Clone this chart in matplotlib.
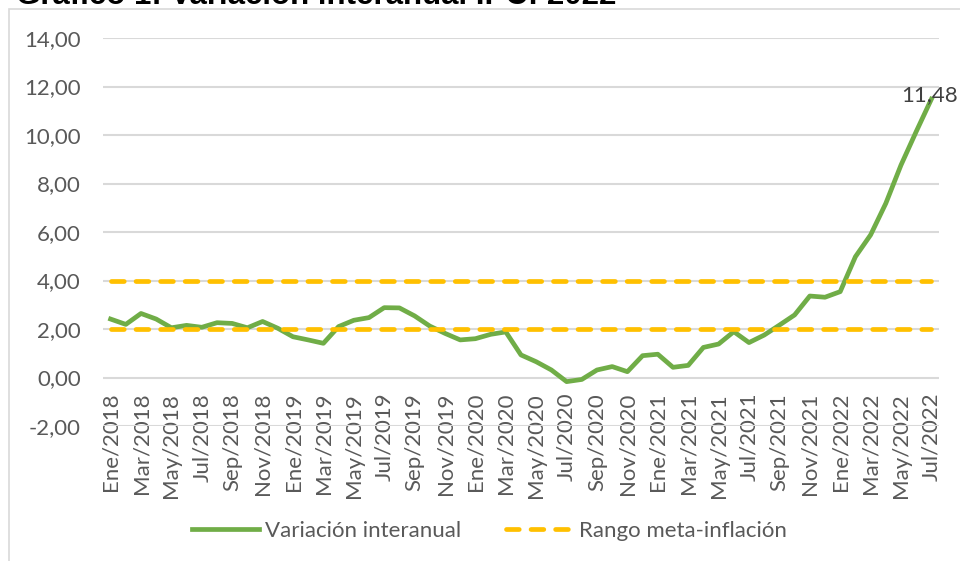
import matplotlib.pyplot as plt
from matplotlib.patches import Rectangle
from matplotlib.lines import Line2D

# meses Ene/2018 .. Jul/2022
mes_abrev = ["Ene", "Feb", "Mar", "Abr", "May", "Jun", "Jul", "Ago", "Sep", "Oct", "Nov", "Dic"]
anios = [2018, 2019, 2020, 2021, 2022]
meses = [m + "/" + str(a) for a in anios for m in mes_abrev][:55]

variacion = [
    2.41, 2.19, 2.64, 2.41, 2.05, 2.15, 2.07, 2.26, 2.23, 2.05, 2.31, 2.03,   # 2018
    1.68, 1.55, 1.41, 2.10, 2.36, 2.47, 2.88, 2.87, 2.54, 2.12, 1.82, 1.55,   # 2019
    1.60, 1.78, 1.88, 0.93, 0.65, 0.31, -0.17, -0.08, 0.31, 0.45, 0.24, 0.90, # 2020
    0.96, 0.42, 0.50, 1.24, 1.38, 1.89, 1.44, 1.75, 2.16, 2.58, 3.36, 3.31,   # 2021
    3.54, 4.98, 5.88, 7.18, 8.76, 10.14, 11.48,                               # 2022
]
meta_inf = 2.0
meta_sup = 4.0

verde = "#70AD47"
amarillo = "#FFC000"
gris_txt = "#595959"
gris_grid = "#D9D9D9"

plt.rcParams["font.family"] = ["Lato", "DejaVu Sans"]

fig = plt.figure(figsize=(9.6, 5.61), dpi=100)
W, H = 960, 561

# borde del area del grafico
fig.patches.append(Rectangle((9 / W, -0.1), 1.2, 1 - 9 / H + 0.1, transform=fig.transFigure,
                             fill=False, edgecolor=gris_grid, linewidth=1.2))

# titulo (cortado arriba en la imagen original)
fig.text(16 / W, 1 - 4.5 / H, "Gráfico 1: Variación interanual IPC: 2022", fontsize=22.5,
         fontweight="bold", family="Liberation Sans", color="black", va="baseline")

ax = fig.add_axes([103 / W, 1 - 426 / H, (939 - 103) / W, (426 - 38) / H])
for s in ax.spines.values():
    s.set_visible(False)
ax.spines["bottom"].set_position(("data", 0))

x = list(range(len(meses)))

ax.plot(x, variacion, color=verde, linewidth=3.4, solid_joinstyle="round", zorder=3)
ax.plot(x, [meta_sup] * len(x), color=amarillo, linewidth=3.4, linestyle=(0, (2.7, 2.5)),
        dash_capstyle="round", zorder=4)
ax.plot(x, [meta_inf] * len(x), color=amarillo, linewidth=3.4, linestyle=(0, (2.7, 2.5)),
        dash_capstyle="round", zorder=4)

ax.annotate("11,48", (x[-1], variacion[-1]), xytext=(-1, 3), textcoords="offset points",
            ha="center", va="center", fontsize=16, color="#404040", annotation_clip=False)

ax.set_xlim(-0.5, len(x) - 0.5)
ax.set_ylim(-2, 14)
ax.set_yticks(range(-2, 15, 2))
ax.set_yticklabels(["{:.2f}".format(v).replace(".", ",") for v in range(-2, 15, 2)])
ax.set_xticks(x[::2])
ax.set_xticklabels(meses[::2])

ax.grid(axis="y", color=gris_grid, linewidth=1.5)
ax.set_axisbelow(True)
ax.tick_params(axis="both", length=0, labelsize=16, labelcolor=gris_txt)
ax.tick_params(axis="x", pad=11, labelrotation=90)
ax.tick_params(axis="y", pad=16)

handles = [Line2D([], [], color=verde, linewidth=3.4),
           Line2D([], [], color=amarillo, linewidth=3.4, linestyle=(0, (2.7, 2.5)), dash_capstyle="round")]
fig.legend(handles, ["Variación interanual", "Rango meta-inflación"], loc="center",
           bbox_to_anchor=(0.51, 1 - 531 / H), ncol=2, frameon=False, fontsize=16,
           labelcolor=gris_txt, handlelength=3.0, handletextpad=0.3, columnspacing=2.0)

fig.savefig("out.png", dpi=100)
